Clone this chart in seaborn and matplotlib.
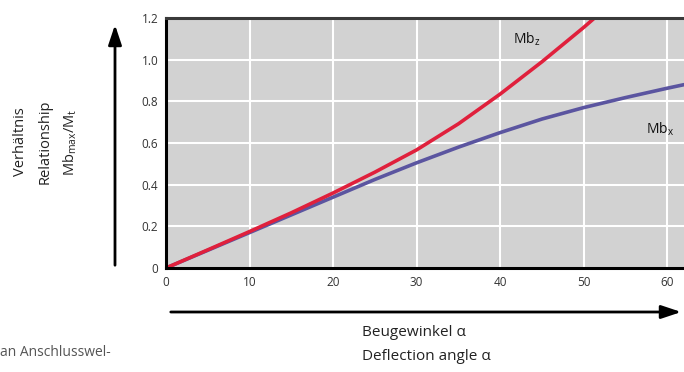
import matplotlib
matplotlib.use("Agg")
import matplotlib.pyplot as plt
import seaborn as sns
import pandas as pd

# values
angle = [0, 5, 10, 15, 20, 25, 30, 35, 40, 45, 50, 55, 60, 62]
mb_x = [0, 0.085, 0.17, 0.255, 0.34, 0.425, 0.505, 0.58, 0.65, 0.715, 0.77, 0.818, 0.863, 0.88]
angle_z = [0, 5, 10, 15, 20, 25, 30, 35, 40, 45, 50, 52]
mb_z = [0, 0.087, 0.175, 0.265, 0.36, 0.46, 0.567, 0.692, 0.835, 0.99, 1.155, 1.225]

x_ticks = [0, 10, 20, 30, 40, 50, 60]
y_ticks = [0, 0.2, 0.4, 0.6, 0.8, 1.0, 1.2]
y_ticklabels = ['0', '0.2', '0.4', '0.6', '0.8', '1.0', '1.2']

df = pd.concat([
    pd.DataFrame({'angle': angle, 'ratio': mb_x, 'curve': 'Mb_x'}),
    pd.DataFrame({'angle': angle_z, 'ratio': mb_z, 'curve': 'Mb_z'}),
])

sns.set_style("whitegrid", {'axes.facecolor': '#d2d2d2', 'grid.color': 'white'})
plt.rcParams['font.family'] = ['Open Sans', 'DejaVu Sans']

fig = plt.figure(figsize=(6.84, 3.72), dpi=100)
ax = fig.add_axes([166 / 684, 1 - 268 / 372, 1 - 166 / 684, 250 / 372])

sns.lineplot(data=df, x='angle', y='ratio', hue='curve', ax=ax,
             palette={'Mb_x': '#5b55a0', 'Mb_z': '#e0203c'}, linewidth=2.6,
             legend=False, estimator=None, sort=False)

ax.set_xlim(0, 62)
ax.set_ylim(0, 1.2)
ax.set_xticks(x_ticks)
ax.set_yticks(y_ticks)
ax.set_yticklabels(y_ticklabels)
ax.set_xlabel('')
ax.set_ylabel('')
ax.grid(True, color='white', linewidth=1.5)
ax.tick_params(axis='both', labelsize=8.5, colors='#444444', length=2, width=0.6)
ax.tick_params(axis='both', labelcolor='#333333')

for side in ['left', 'bottom']:
    ax.spines[side].set_color('black')
    ax.spines[side].set_linewidth(2.2)
ax.spines['top'].set_color('#3a3a3a')
ax.spines['top'].set_linewidth(2.2)
ax.spines['right'].set_visible(False)

# curve labels
ax.text(41.5, 1.1, r'Mb$_\mathregular{z}$', fontsize=10, color='#111111', va='center')
ax.text(57.5, 0.665, r'Mb$_\mathregular{x}$', fontsize=10, color='#111111', va='center')

# axis arrows
ax.annotate('', xy=(115, 372 - 22), xytext=(115, 372 - 268), xycoords='figure pixels',
            textcoords='figure pixels',
            arrowprops=dict(arrowstyle='-|>,head_length=1.2,head_width=0.4', color='black', lw=2))
ax.annotate('', xy=(684, 372 - 312), xytext=(168, 372 - 312), xycoords='figure pixels',
            textcoords='figure pixels',
            arrowprops=dict(arrowstyle='-|>,head_length=1.2,head_width=0.4', color='black', lw=2))

# axis titles
fig.text(362 / 684, 1 - 333 / 372, 'Beugewinkel α', fontsize=11, color='#222222', va='center')
fig.text(362 / 684, 1 - 357 / 372, 'Deflection angle α', fontsize=11, color='#222222', va='center')
fig.text(20 / 684, 1 - 142 / 372, 'Verhältnis', fontsize=10.5, color='#222222',
         rotation=90, ha='center', va='center')
fig.text(45 / 684, 1 - 142 / 372, 'Relationship', fontsize=10.5, color='#222222',
         rotation=90, ha='center', va='center')
fig.text(70 / 684, 1 - 142 / 372, r'Mb$_\mathregular{max}$/M$_\mathregular{t}$', fontsize=10.5,
         color='#222222', rotation=90, ha='center', va='center')

# cropped caption fragment
fig.text(0, 1 - 352 / 372, 'an Anschlusswel-', fontsize=10, color='#555555', va='center')

fig.savefig('out.png', dpi=100)
